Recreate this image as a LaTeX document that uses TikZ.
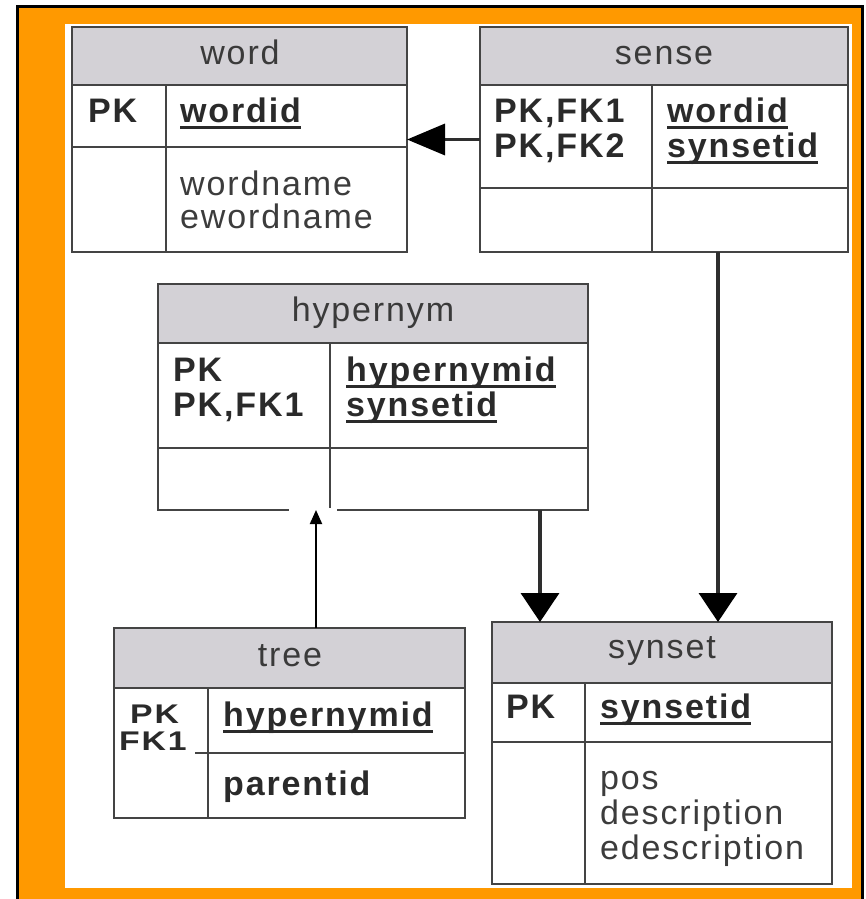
\documentclass[tikz,border=0pt]{standalone}
\usepackage{fontspec}
\usepackage{graphicx}
\setmainfont[LetterSpace=5.5]{Liberation Sans}
\usetikzlibrary{arrows.meta}
\definecolor{orng}{HTML}{FF9900}
\definecolor{hdrgray}{HTML}{D3D1D6}
\definecolor{linegray}{HTML}{444444}
\definecolor{arrgray}{HTML}{2E2E2E}
\definecolor{txt}{HTML}{2A2A2A}
\definecolor{rtxt}{HTML}{3C3C3C}
\definecolor{htxt}{HTML}{3A3A3A}
\tikzset{
  tbl/.style={draw=linegray, line width=2.5pt, rectangle, inner sep=0pt, outer sep=0pt, anchor=north west},
  hdrfill/.style={fill=hdrgray},
  sep/.style={draw=linegray, line width=2.5pt},
  hdrtxt/.style={anchor=base, inner sep=0pt, text=htxt, font=\fontsize{34}{34}\selectfont},
  fld/.style={anchor=base west, inner sep=0pt, text=rtxt, font=\fontsize{34}{34}\selectfont},
  bfld/.style={fld, text=txt, font=\fontsize{34}{34}\selectfont\bfseries},
  arr/.style={draw=arrgray, line width=3.5pt, -{Triangle[width=38pt,length=29pt,color=black]}},
  harr/.style={draw=arrgray, line width=3.5pt, -{Triangle[width=31pt,length=38pt,color=black]}},
  smallarr/.style={draw=black, line width=2pt, -{Triangle[width=12pt,length=14pt]}},
}
\newcommand\ulx[1]{\setbox0\hbox{#1}\rlap{\rule[-6.5pt]{\wd0}{2.5pt}}\box0}
\begin{document}
\begin{tikzpicture}[x=1pt,y=-1pt]
\useasboundingbox (0,0) rectangle (865,899);
% frame
\fill[white] (0,0) rectangle (865,899);
\fill[orng] (17,7) rectangle (862,899);
\draw[black, line width=3pt] (17,899) -- (17,7) -- (862,7) -- (862,899);
\fill[white] (65,24) rectangle (852,888);

% ---- word
\fill[hdrfill] (72,27) rectangle (407,85);
\node[tbl, minimum width=335pt, minimum height=225pt] (word) at (72,27) {};
\draw[sep] (72,85) -- (407,85);
\draw[sep] (72,147) -- (407,147);
\draw[sep] (166,85) -- (166,252);
\node[hdrtxt] (wordT) at (240,65) {word};
\node[bfld] (wordPK) at (88,122) {PK};
\node[bfld] (wordA) at (180,122) {\ulx{wordid}};
\node[fld] (wordB) at (180,195) {wordname};
\node[fld] (wordC) at (180,228) {ewordname};

% ---- sense
\fill[hdrfill] (480,27) rectangle (848,85);
\node[tbl, minimum width=368pt, minimum height=225pt] (sense) at (480,27) {};
\draw[sep] (480,85) -- (848,85);
\draw[sep] (480,188) -- (848,188);
\draw[sep] (652,85) -- (652,252);
\node[hdrtxt] (senseT) at (664,65) {sense};
\node[bfld] (senseK1) at (494,122) {PK,FK1};
\node[bfld] (senseK2) at (494,157) {PK,FK2};
\node[bfld] (senseA) at (667,122) {\ulx{wordid}};
\node[bfld] (senseB) at (667,157) {\ulx{synsetid}};

% ---- hypernym
\fill[hdrfill] (158,284) rectangle (588,343);
\node[tbl, minimum width=430pt, minimum height=226pt] (hyper) at (158,284) {};
\draw[sep] (158,343) -- (588,343);
\draw[sep] (158,448) -- (588,448);
\draw[sep] (330,343) -- (330,510);
\node[hdrtxt] (hyperT) at (373,321) {hypernym};
\node[bfld] (hyperK1) at (173,381) {PK};
\node[bfld] (hyperK2) at (173,416) {PK,FK1};
\node[bfld] (hyperA) at (346,381) {\ulx{hypernymid}};
\node[bfld] (hyperB) at (346,416) {\ulx{synsetid}};

% ---- tree
\fill[hdrfill] (114,628) rectangle (465,688);
\node[tbl, minimum width=351pt, minimum height=190pt] (tree) at (114,628) {};
\draw[sep] (114,688) -- (465,688);
\draw[sep] (195,753) -- (465,753);
\draw[sep] (208,688) -- (208,818);
\node[hdrtxt] (treeT) at (290,666) {tree};
\node[bfld, font=\fontsize{27}{27}\selectfont\bfseries] (treeK1) at (130,723) {\scalebox{1.25}[1]{PK}};
\node[bfld, font=\fontsize{27}{27}\selectfont\bfseries] (treeK2) at (119,750) {\scalebox{1.25}[1]{FK1}};
\node[bfld] (treeA) at (223,726) {\ulx{hypernymid}};
\node[bfld] (treeB) at (223,795) {parentid};

% ---- synset
\fill[hdrfill] (492,622) rectangle (832,683);
\node[tbl, minimum width=340pt, minimum height=262pt] (synset) at (492,622) {};
\draw[sep] (492,683) -- (832,683);
\draw[sep] (492,742) -- (832,742);
\draw[sep] (585,683) -- (585,884);
\node[hdrtxt] (synsetT) at (662,658) {synset};
\node[bfld] (synsetK) at (506,718) {PK};
\node[bfld] (synsetA) at (600,718) {\ulx{synsetid}};
\node[fld] (synsetB) at (600,789) {pos};
\node[fld] (synsetC) at (600,824) {description};
\node[fld] (synsetD) at (600,859) {edescription};

% ---- connectors
\draw[harr] (sense.west) -- (word.east);
\draw[arr] (hyper.south -| 540,0) -- (synset.north -| 540,0);
\draw[arr] (sense.south -| 718,0) -- (synset.north -| 718,0);
\fill[white] (289,508) rectangle (337,515);
\draw[smallarr] (tree.north -| 316,0) -- (hyper.south -| 316,0);
\end{tikzpicture}
\end{document}
